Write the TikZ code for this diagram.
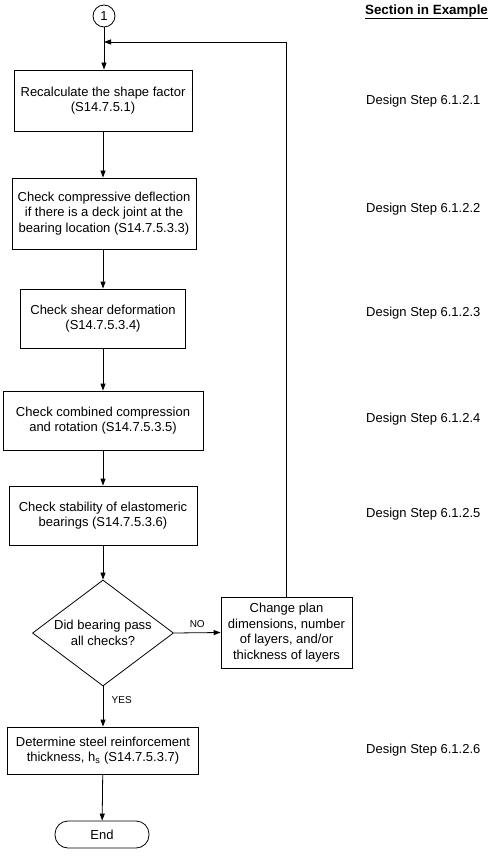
\documentclass[tikz,border=0pt]{standalone}
\usepackage{fontspec,xcolor,tikz}
\setmainfont{Liberation Sans}
\usetikzlibrary{arrows.meta,shapes.geometric}
\definecolor{ink}{HTML}{000000}
\newcommand{\boxtxt}{\fontsize{13}{15.5}\selectfont}
\newcommand{\hdtxt}{\fontsize{13.4}{15}\selectfont\bfseries}
\newcommand{\smtxt}{\fontsize{10}{12}\selectfont}

\begin{document}
\begin{tikzpicture}[x=1pt,y=1pt,font=\boxtxt,
  stepbox/.style={draw=ink,line width=0.8pt,align=center,inner sep=2pt},
  flow/.style={ink,line width=0.8pt,-{Triangle[length=7pt,width=5pt]}},
  refnote/.style={anchor=west,inner sep=0,text=ink}]
\useasboundingbox (0,0) rectangle (495,-861);
\node[anchor=center,inner sep=0,font=\hdtxt] (head) at (426.5,-12) {\underline{Section in Example}};
\node[draw=ink,line width=0.8pt,circle,minimum size=22pt,inner sep=0] (c1) at (104,-16) {1};
\coordinate (join) at (104,-42);
\node[stepbox,minimum width=178pt,minimum height=61pt] (b1) at (103,-100.5) {Recalculate the shape factor\\(S14.7.5.1)};
\node[stepbox,minimum width=184pt,minimum height=71pt] (b2) at (104,-213.5) {Check compressive deflection\\if there is a deck joint at the\\bearing location (S14.7.5.3.3)};
\node[stepbox,minimum width=165pt,minimum height=59pt] (b3) at (103,-318.5) {Check shear deformation\\(S14.7.5.3.4)};
\node[stepbox,minimum width=200pt,minimum height=59pt] (b4) at (103,-420.5) {Check combined compression\\and rotation (S14.7.5.3.5)};
\node[stepbox,minimum width=188pt,minimum height=59pt] (b5) at (103,-515.5) {Check stability of elastomeric\\bearings (S14.7.5.3.6)};
\node[draw=ink,line width=0.8pt,diamond,aspect=1.33,minimum width=141pt,minimum height=106pt,inner sep=0,align=center] (dec) at (103,-633) {Did bearing pass\\all checks?};
\node[stepbox,minimum width=131pt,minimum height=71pt] (chg) at (286.5,-632.5) {Change plan\\dimensions, number\\of layers, and/or\\thickness of layers};
\node[stepbox,minimum width=191pt,minimum height=47pt] (b6) at (103,-750.5) {Determine steel reinforcement\\thickness, h\textsubscript{s} (S14.7.5.3.7)};
\node[draw=ink,line width=0.8pt,rectangle,rounded corners=13pt,minimum width=94pt,minimum height=27pt] (stop) at (102,-834.5) {End};
% section references
\node[refnote] (r1) at (366,-101) {Design Step 6.1.2.1};
\node[refnote] (r2) at (366,-209) {Design Step 6.1.2.2};
\node[refnote] (r3) at (366,-313) {Design Step 6.1.2.3};
\node[refnote] (r4) at (366,-419) {Design Step 6.1.2.4};
\node[refnote] (r5) at (366,-514) {Design Step 6.1.2.5};
\node[refnote] (r6) at (366,-750) {Design Step 6.1.2.6};
% connectors
\draw[flow] (c1) -- (b1.north -| c1);
\draw[flow] (chg.north) |- (join);
\draw[flow] (b1) -- (b2.north -| b1);
\draw[flow] (b2.south -| b1) -- (b3);
\draw[flow] (b3) -- (b4);
\draw[flow] (b4) -- (b5);
\draw[flow] (b5) -- (dec);
\draw[flow] (dec.east) -- node[above=1pt,font=\smtxt] {NO} (chg.west);
\draw[flow] (dec.south) -- node[pos=0.35,right=5pt,font=\smtxt] {YES} (b6.north);
\draw[flow] (b6) -- (stop);
\end{tikzpicture}
\end{document}
